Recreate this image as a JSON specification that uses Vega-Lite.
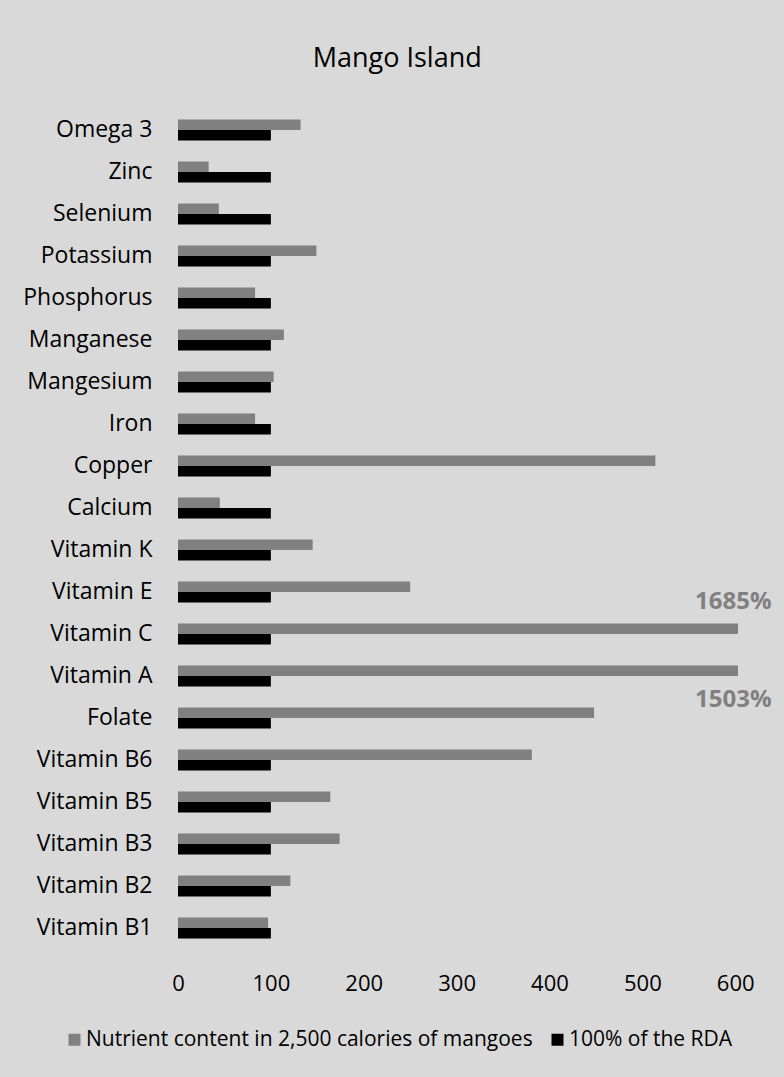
{
  "$schema": "https://vega.github.io/schema/vega-lite/v6.json",
  "width": 560,
  "height": 840,
  "autosize": {"type": "none"},
  "padding": {"left": 178, "top": 109, "right": 46, "bottom": 128},
  "background": "#d9d9d9",
  "config": {
    "font": "Open Sans",
    "view": {"stroke": null}
  },
  "title": {
    "text": "Mango Island",
    "fontSize": 27,
    "fontWeight": "normal",
    "color": "#000000",
    "anchor": "middle",
    "frame": "bounds",
    "baseline": "alphabetic",
    "offset": 15
  },
  "datasets": {
    "bars": [
      {"nutrient": "Omega 3", "series": "Nutrient content in 2,500 calories of mangoes", "value": 132},
      {"nutrient": "Zinc", "series": "Nutrient content in 2,500 calories of mangoes", "value": 33},
      {"nutrient": "Selenium", "series": "Nutrient content in 2,500 calories of mangoes", "value": 44},
      {"nutrient": "Potassium", "series": "Nutrient content in 2,500 calories of mangoes", "value": 149},
      {"nutrient": "Phosphorus", "series": "Nutrient content in 2,500 calories of mangoes", "value": 83},
      {"nutrient": "Manganese", "series": "Nutrient content in 2,500 calories of mangoes", "value": 114},
      {"nutrient": "Mangesium", "series": "Nutrient content in 2,500 calories of mangoes", "value": 103},
      {"nutrient": "Iron", "series": "Nutrient content in 2,500 calories of mangoes", "value": 83},
      {"nutrient": "Copper", "series": "Nutrient content in 2,500 calories of mangoes", "value": 514},
      {"nutrient": "Calcium", "series": "Nutrient content in 2,500 calories of mangoes", "value": 45},
      {"nutrient": "Vitamin K", "series": "Nutrient content in 2,500 calories of mangoes", "value": 145},
      {"nutrient": "Vitamin E", "series": "Nutrient content in 2,500 calories of mangoes", "value": 250},
      {"nutrient": "Vitamin C", "series": "Nutrient content in 2,500 calories of mangoes", "value": 1685},
      {"nutrient": "Vitamin A", "series": "Nutrient content in 2,500 calories of mangoes", "value": 1503},
      {"nutrient": "Folate", "series": "Nutrient content in 2,500 calories of mangoes", "value": 448},
      {"nutrient": "Vitamin B6", "series": "Nutrient content in 2,500 calories of mangoes", "value": 381},
      {"nutrient": "Vitamin B5", "series": "Nutrient content in 2,500 calories of mangoes", "value": 164},
      {"nutrient": "Vitamin B3", "series": "Nutrient content in 2,500 calories of mangoes", "value": 174},
      {"nutrient": "Vitamin B2", "series": "Nutrient content in 2,500 calories of mangoes", "value": 121},
      {"nutrient": "Vitamin B1", "series": "Nutrient content in 2,500 calories of mangoes", "value": 97},
      {"nutrient": "Omega 3", "series": "100% of the RDA", "value": 100},
      {"nutrient": "Zinc", "series": "100% of the RDA", "value": 100},
      {"nutrient": "Selenium", "series": "100% of the RDA", "value": 100},
      {"nutrient": "Potassium", "series": "100% of the RDA", "value": 100},
      {"nutrient": "Phosphorus", "series": "100% of the RDA", "value": 100},
      {"nutrient": "Manganese", "series": "100% of the RDA", "value": 100},
      {"nutrient": "Mangesium", "series": "100% of the RDA", "value": 100},
      {"nutrient": "Iron", "series": "100% of the RDA", "value": 100},
      {"nutrient": "Copper", "series": "100% of the RDA", "value": 100},
      {"nutrient": "Calcium", "series": "100% of the RDA", "value": 100},
      {"nutrient": "Vitamin K", "series": "100% of the RDA", "value": 100},
      {"nutrient": "Vitamin E", "series": "100% of the RDA", "value": 100},
      {"nutrient": "Vitamin C", "series": "100% of the RDA", "value": 100},
      {"nutrient": "Vitamin A", "series": "100% of the RDA", "value": 100},
      {"nutrient": "Folate", "series": "100% of the RDA", "value": 100},
      {"nutrient": "Vitamin B6", "series": "100% of the RDA", "value": 100},
      {"nutrient": "Vitamin B5", "series": "100% of the RDA", "value": 100},
      {"nutrient": "Vitamin B3", "series": "100% of the RDA", "value": 100},
      {"nutrient": "Vitamin B2", "series": "100% of the RDA", "value": 100},
      {"nutrient": "Vitamin B1", "series": "100% of the RDA", "value": 100}
    ],
    "labels": [
      {"nutrient": "Vitamin C", "label": "1685%"},
      {"nutrient": "Vitamin A", "label": "1503%"}
    ]
  },
  "layer": [
    {
      "data": {"name": "bars"},
      "mark": {"type": "bar", "clip": true},
      "encoding": {
        "y": {
          "field": "nutrient",
          "type": "nominal",
          "sort": null,
          "scale": {
            "domain": ["Omega 3", "Zinc", "Selenium", "Potassium", "Phosphorus", "Manganese", "Mangesium", "Iron", "Copper", "Calcium", "Vitamin K", "Vitamin E", "Vitamin C", "Vitamin A", "Folate", "Vitamin B6", "Vitamin B5", "Vitamin B3", "Vitamin B2", "Vitamin B1"],
            "paddingInner": 0,
            "paddingOuter": 0
          },
          "axis": {
            "title": null,
            "domain": false,
            "ticks": false,
            "grid": false,
            "labelFontSize": 23,
            "labelFontWeight": 500,
            "labelColor": "#000000",
            "labelPadding": 26,
            "labelLimit": 300
          }
        },
        "yOffset": {
          "field": "series",
          "type": "nominal",
          "scale": {
            "domain": ["Nutrient content in 2,500 calories of mangoes", "100% of the RDA"],
            "paddingInner": 0,
            "paddingOuter": 1.1
          }
        },
        "x": {
          "field": "value",
          "type": "quantitative",
          "scale": {"domain": [0, 603], "nice": false},
          "axis": {
            "title": null,
            "values": [0, 100, 200, 300, 400, 500, 600],
            "domain": false,
            "ticks": false,
            "grid": false,
            "labelFontSize": 22,
            "labelColor": "#000000",
            "labelPadding": 24,
            "labelFlush": false
          }
        },
        "color": {
          "field": "series",
          "type": "nominal",
          "scale": {
            "domain": ["Nutrient content in 2,500 calories of mangoes", "100% of the RDA"],
            "range": ["#808080", "#000000"]
          },
          "legend": {
            "title": null,
            "orient": "none",
            "direction": "horizontal",
            "legendX": -114,
            "legendY": 920,
            "symbolType": "square",
            "symbolSize": 144,
            "symbolStrokeWidth": 0,
            "labelFontSize": 21,
            "labelColor": "#000000",
            "labelOffset": 1,
            "columnPadding": 14,
            "labelLimit": 600
          }
        }
      }
    },
    {
      "data": {"name": "labels"},
      "transform": [{"filter": "datum.nutrient === 'Vitamin C'"}],
      "mark": {"type": "text", "fontSize": 24, "fontWeight": "bold", "color": "#808080", "align": "center", "baseline": "middle", "dy": -32},
      "encoding": {
        "y": {"field": "nutrient", "type": "nominal", "sort": null},
        "x": {"datum": 598},
        "text": {"field": "label"}
      }
    },
    {
      "data": {"name": "labels"},
      "transform": [{"filter": "datum.nutrient === 'Vitamin A'"}],
      "mark": {"type": "text", "fontSize": 24, "fontWeight": "bold", "color": "#808080", "align": "center", "baseline": "middle", "dy": 24},
      "encoding": {
        "y": {"field": "nutrient", "type": "nominal", "sort": null},
        "x": {"datum": 598},
        "text": {"field": "label"}
      }
    }
  ]
}
